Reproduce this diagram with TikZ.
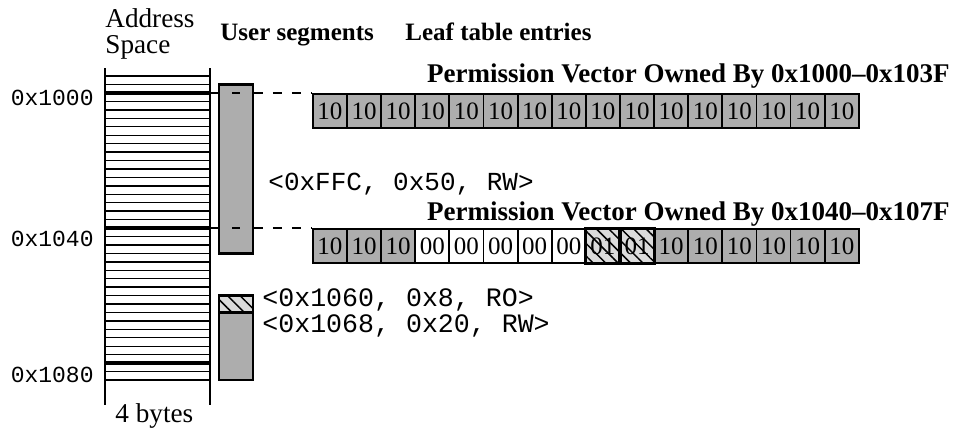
\documentclass[tikz,border=0pt]{standalone}
\usepackage{fontspec}
\setmainfont{Liberation Serif}
\setmonofont{Liberation Mono}
\usetikzlibrary{patterns.meta}

\definecolor{segfill}{gray}{0.68}
\definecolor{rofill}{gray}{0.86}

\begin{document}
\begin{tikzpicture}[x=0.5pt,y=-0.5pt,
    rowline/.style={line width=0.7pt},
    rowthick/.style={line width=1.6pt},
    segbox/.style={draw, line width=1.2pt},
    hatch/.style={pattern={Lines[angle=-45,distance=4.4pt,line width=0.75pt]}},
    cellbox/.style={draw, line width=0.9pt, minimum width=17.06pt, minimum height=17pt,
      inner sep=0pt, anchor=north west, font=\fontsize{12.5}{12.5}\selectfont},
    c10/.style={cellbox, fill=segfill},
    c00/.style={cellbox, fill=white},
    c01/.style={cellbox, fill=rofill},
    hexlbl/.style={anchor=base east, inner sep=0pt, font=\ttfamily\fontsize{11.5}{11.5}\selectfont},
    seglbl/.style={anchor=base west, inner sep=0pt, font=\ttfamily\fontsize{13}{13}\selectfont},
    seglblb/.style={anchor=base west, inner sep=0pt, font=\ttfamily\fontsize{13.3}{13.3}\selectfont},
    head/.style={anchor=base west, inner sep=0pt, font=\bfseries\fontsize{12.5}{12.5}\selectfont},
    title/.style={anchor=base east, inner sep=0pt, font=\bfseries\fontsize{13.5}{13.5}\selectfont},
    plain/.style={anchor=base west, inner sep=0pt, font=\fontsize{13.6}{13.6}\selectfont}
  ]
\useasboundingbox (0,0) rectangle (956,429);

% ---- headings ----
\node[plain] (hAddr) at (105,27) {Address};
\node[plain] (hSpace) at (105,53) {Space};
\node[head] (hSeg) at (220,40) {User segments};
\node[head] (hLeaf) at (405,40) {Leaf table entries};

% ---- address space: one row per 4-byte word ----
\def\rowh{8.44}
\draw[line width=0.9pt] (105,68) -- (105,405);
\draw[line width=0.9pt] (210,68) -- (210,405);
\foreach \k in {-2,...,34}{
  \pgfmathsetmacro{\yy}{93+\rowh*\k}
  \draw[rowline] (105,\yy) -- (210,\yy);
}
\foreach \k in {0,16,32}{
  \pgfmathsetmacro{\yy}{93+\rowh*\k}
  \draw[rowthick] (105,\yy) -- (210,\yy);
}
\coordinate (a1000) at (210,93);
\coordinate (a1040) at (210,{93+16*\rowh});

\node[hexlbl] (l1000) at (94,105) {0x1000};
\node[hexlbl] (l1040) at (94,246) {0x1040};
\node[hexlbl] (l1080) at (94,382) {0x1080};
\node[plain] (bytes) at (115,422) {4 bytes};

% ---- user segments ----
\draw[segbox, fill=segfill] (219,{93-\rowh}) rectangle (253,{93+19*\rowh});
\node[inner sep=0pt, minimum width=17pt, minimum height={20*\rowh*0.5pt}, anchor=north west]
  (segA) at (219,{93-\rowh}) {};
\draw[line width=0.9pt] (232,93) -- (240,93);
\draw[line width=0.9pt] (232,{93+16*\rowh}) -- (240,{93+16*\rowh});

\draw[segbox, fill=rofill] (219,{93+24*\rowh}) rectangle (253,{93+26*\rowh});
\fill[hatch] (219,{93+24*\rowh}) rectangle (253,{93+26*\rowh});
\draw[segbox] (219,{93+24*\rowh}) rectangle (253,{93+26*\rowh});
\draw[segbox, fill=segfill] (219,{93+26*\rowh}) rectangle (253,{93+34*\rowh});

\node[seglbl] (sA) at (268,190) {<0xFFC, 0x50, RW>};
\node[seglblb] (sB) at (262,306) {<0x1060, 0x8, RO>};
\node[seglblb] (sC) at (262,332) {<0x1068, 0x20, RW>};

% ---- permission vectors ----
\node[title] (t1) at (950,82) {Permission Vector Owned By 0x1000–0x103F};
\node[title] (t2) at (950,220) {Permission Vector Owned By 0x1040–0x107F};

\foreach \i in {0,...,15}{
  \node[c10] (v1-\i) at ({312+\i*34.12},93) {10};
}
\foreach \v [count=\j from 0] in {10,10,10,00,00,00,00,00,01,01,10,10,10,10,10,10}{
  \node[c\v] (v2-\j) at ({312+\j*34.12},{93+16*\rowh}) {\v};
}
\foreach \j in {8,9}{
  \fill[hatch] (v2-\j.south west) rectangle (v2-\j.north east);
  \draw[line width=0.9pt] (v2-\j.south west) rectangle (v2-\j.north east);
}

% ---- connectors from address space to the vectors ----
\draw[line width=0.9pt] (a1000) -- (segA.west |- a1000);
\draw[line width=0.9pt, dash pattern=on 4.5pt off 5pt] (segA.east |- a1000) -- (v1-0.north west);
\draw[line width=0.9pt] (a1040) -- (segA.west |- a1040);
\draw[line width=0.9pt, dash pattern=on 4.5pt off 5pt] (segA.east |- a1040) -- (v2-0.north west);
\end{tikzpicture}
\end{document}
